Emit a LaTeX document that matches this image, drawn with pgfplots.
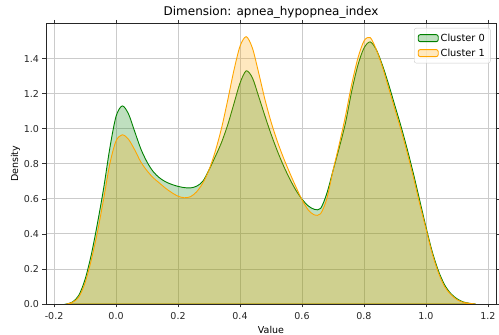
\documentclass[border=0pt]{standalone}
\usepackage{pgfplots}
\pgfplotsset{compat=1.18}
\usepackage{fontspec}
\setmainfont{DejaVu Sans}
\definecolor{mgreen}{HTML}{008000}
\definecolor{morange}{HTML}{FFA500}
\definecolor{gridc}{HTML}{CBCBCB}
\begin{document}
\begin{tikzpicture}
\begin{axis}[
  at={(0,0)}, anchor=south west,
  scale only axis, width=450pt, height=280.5pt,
  xmin=-0.226, xmax=1.226, ymin=0, ymax=1.6,
  xtick={-0.2,0,0.2,0.4,0.6,0.8,1.0,1.2},
  ytick={0,0.2,0.4,0.6,0.8,1.0,1.2,1.4},
  xticklabel style={yshift=-1pt, /pgf/number format/.cd,fixed,fixed zerofill,precision=1},
  yticklabel style={/pgf/number format/.cd,fixed,fixed zerofill,precision=1},
  /pgf/number format/assume math mode=true,
  ticklabel style={font=\fontsize{9.5}{11}\selectfont, text=black!85},
  tick align=outside, major tick length=3.5pt,
  tick style={black!80, line width=0.6pt},
  grid=major, grid style={gridc, line width=0.8pt},
  axis line style={black!85, line width=0.7pt},
  title={Dimension: apnea\_hypopnea\_index},
  title style={font=\fontsize{12}{14}\selectfont, yshift=-4pt},
  xlabel={Value}, ylabel={Density},
  xlabel style={font=\fontsize{9.5}{11}\selectfont, yshift=0pt},
  ylabel style={font=\fontsize{9.5}{11}\selectfont, yshift=-3pt},
  legend style={at={(1,1)}, xshift=-5.5pt, yshift=-4.5pt, anchor=north east, font=\fontsize{9.8}{11}\selectfont,
    draw=black!20, rounded corners=2pt, fill=white, fill opacity=0.8, text opacity=1,
    row sep=2pt, inner sep=3.5pt},
  legend cell align=left,
  legend image code/.code={\draw[#1] (0pt,-3.5pt) rectangle (20pt,3.5pt);},
]
\addplot[smooth, draw=mgreen, line width=0.9pt, fill=mgreen, fill opacity=0.25] coordinates {
(-0.16,0.0) (-0.14,0.012) (-0.12,0.05) (-0.10,0.14) (-0.08,0.28) (-0.06,0.46) (-0.04,0.66) (-0.02,0.89)
(0.00,1.07) (0.02,1.13) (0.04,1.085) (0.06,0.985) (0.08,0.885) (0.10,0.81) (0.12,0.755) (0.14,0.72)
(0.16,0.697) (0.18,0.682) (0.20,0.671) (0.22,0.664) (0.24,0.662) (0.26,0.672) (0.28,0.70) (0.30,0.765)
(0.32,0.84) (0.34,0.92) (0.36,1.02) (0.38,1.14) (0.40,1.26) (0.42,1.33) (0.44,1.29) (0.46,1.185)
(0.48,1.075) (0.50,0.97) (0.52,0.875) (0.54,0.79) (0.56,0.715) (0.58,0.65) (0.60,0.598) (0.62,0.56)
(0.64,0.54) (0.66,0.545) (0.68,0.63) (0.70,0.76) (0.72,0.89) (0.74,1.03) (0.76,1.21) (0.78,1.36)
(0.80,1.46) (0.82,1.495) (0.84,1.45) (0.86,1.36) (0.88,1.25) (0.90,1.13) (0.92,1.01) (0.94,0.88)
(0.96,0.74) (0.98,0.59) (1.00,0.44) (1.02,0.30) (1.04,0.19) (1.06,0.11) (1.08,0.06) (1.10,0.03)
(1.12,0.012) (1.14,0.004) (1.16,0.0)
} \closedcycle;
\addlegendentry{Cluster 0}
\addplot[smooth, draw=morange, line width=0.9pt, fill=morange, fill opacity=0.25] coordinates {
(-0.16,0.0) (-0.14,0.01) (-0.12,0.04) (-0.10,0.12) (-0.08,0.25) (-0.06,0.41) (-0.04,0.60) (-0.02,0.80)
(0.00,0.93) (0.02,0.965) (0.04,0.94) (0.06,0.88) (0.08,0.81) (0.10,0.76) (0.12,0.72) (0.14,0.69)
(0.16,0.66) (0.18,0.635) (0.20,0.615) (0.22,0.606) (0.24,0.612) (0.26,0.64) (0.28,0.69) (0.30,0.765)
(0.32,0.87) (0.34,1.00) (0.36,1.16) (0.38,1.33) (0.40,1.47) (0.42,1.525) (0.44,1.46) (0.46,1.32)
(0.48,1.17) (0.50,1.04) (0.52,0.93) (0.54,0.835) (0.56,0.75) (0.58,0.67) (0.60,0.595) (0.62,0.537)
(0.64,0.508) (0.66,0.515) (0.68,0.60) (0.70,0.76) (0.72,0.91) (0.74,1.07) (0.76,1.25) (0.78,1.40)
(0.80,1.50) (0.82,1.52) (0.84,1.45) (0.86,1.35) (0.88,1.23) (0.90,1.11) (0.92,0.99) (0.94,0.86)
(0.96,0.72) (0.98,0.57) (1.00,0.43) (1.02,0.29) (1.04,0.18) (1.06,0.10) (1.08,0.055) (1.10,0.025)
(1.12,0.01) (1.14,0.004) (1.16,0.0)
} \closedcycle;
\addlegendentry{Cluster 1}
\end{axis}
\pgfresetboundingbox
\path[use as bounding box] (-46pt,-31pt) rectangle (453pt,304pt);
\end{tikzpicture}
\end{document}
